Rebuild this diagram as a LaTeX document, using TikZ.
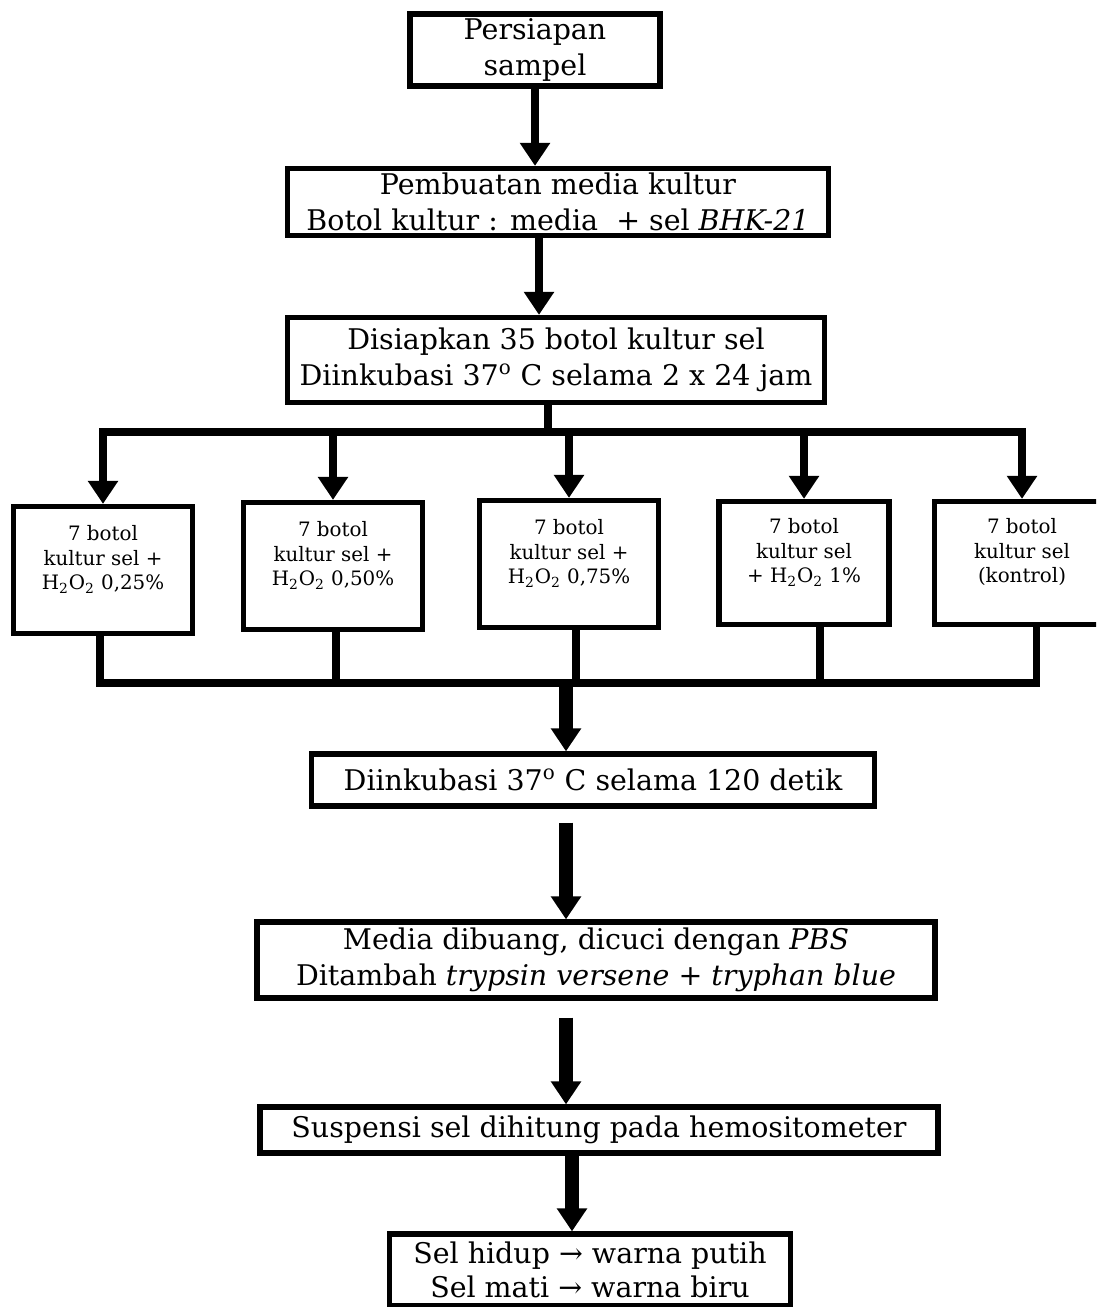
\documentclass[tikz,border=0pt]{standalone}
\usepackage{fontspec}
\setmainfont{DejaVu Serif}
\usetikzlibrary{arrows.meta}

\begin{document}
\begin{tikzpicture}[x=0.02cm,y=-0.02cm,
    box/.style={draw,line width=3pt,align=center,inner sep=0pt,font=\fontsize{16.2}{20.5}\selectfont},
    smallbox/.style={box,minimum width=3.58cm,minimum height=2.54cm,font=\fontsize{11.3}{14}\selectfont},
    arr/.style={line width=5pt,-{Triangle[width=0.58cm,length=0.46cm]}},
    bigarr/.style={arr,line width=7.5pt},
    bus/.style={line width=4pt,line cap=rect}]

    \useasboundingbox (0,0) rectangle (1096,1307);
    \clip (0,0) rectangle (1096,1307);

    % Main steps
    \node[box,minimum width=5cm,minimum height=1.44cm] (prep) at (535,50) {Persiapan\\sampel};
    \node[box,minimum width=10.82cm,minimum height=1.34cm] (media) at (558,202) {Pembuatan media kultur\\Botol kultur : media~ + sel \textit{BHK-21}};
    \node[box,minimum width=10.74cm,minimum height=1.7cm] (siap) at (556,360) {Disiapkan 35 botol kultur sel\\Diinkubasi 37\textsuperscript{o} C selama 2 x 24 jam};

    % Treatment groups
    \node[smallbox] (k1) at (103,570) {7 botol\\kultur sel +\\H\textsubscript{2}O\textsubscript{2} 0,25\%\\\mbox{}};
    \node[smallbox] (k2) at (333,566) {7 botol\\kultur sel +\\H\textsubscript{2}O\textsubscript{2} 0,50\%\\\mbox{}};
    \node[smallbox] (k3) at (569,564) {7 botol\\kultur sel +\\H\textsubscript{2}O\textsubscript{2} 0,75\%\\\mbox{}};
    \node[smallbox,minimum width=3.4cm,minimum height=2.46cm] (k4) at (804,563) {7 botol\\kultur sel\\+ H\textsubscript{2}O\textsubscript{2} 1\%\\\mbox{}};
    \node[smallbox,minimum width=3.5cm,minimum height=2.46cm] (k5) at (1022,563) {7 botol\\kultur sel\\(kontrol)\\\mbox{}};

    \node[box,minimum width=11.26cm,minimum height=1.04cm] (inkub) at (593,780) {Diinkubasi 37\textsuperscript{o} C selama 120 detik};
    \node[box,minimum width=13.56cm,minimum height=1.52cm] (cuci) at (596,960) {Media dibuang, dicuci dengan \textit{PBS}\\Ditambah \textit{trypsin versene} + \textit{tryphan blue}};
    \node[box,minimum width=13.56cm,minimum height=0.92cm] (hitung) at (599,1130) {Suspensi sel dihitung pada hemositometer};
    \node[box,minimum width=8.02cm,minimum height=1.44cm,font=\fontsize{16.2}{19}\selectfont] (hasil) at (590,1270) {Sel hidup → warna putih\\Sel mati → warna biru};

    \coordinate (busT) at (548,432);
    \coordinate (busB) at (566,683);

    \draw[arr] (prep.south) -- (prep.south |- media.north);
    \draw[arr] ([xshift=0.08cm]prep.south |- media.south) -- ([xshift=0.08cm]prep.south |- siap.north);

    % Split to the five groups
    \draw[bus] (busT |- siap.south) -- (busT);
    \draw[bus] (k1.north |- busT) -- (k5.north |- busT);
    \foreach \k in {k1,k2,k3,k4,k5}
        \draw[arr] (\k.north |- busT) -- (\k.north);

    % Join again
    \foreach \k/\dx in {k1/-0.06,k2/0.06,k3/0.14,k4/0.32,k5/0.28}
        \draw[bus] ([xshift=\dx cm]\k.south) -- ([xshift=\dx cm]\k.south |- busB);
    \draw[bus] ([xshift=-0.06cm]k1.south |- busB) -- ([xshift=0.28cm]k5.south |- busB);

    \draw[bigarr] (busB) -- (busB |- inkub.north);
    \draw[bigarr,shorten <=0.28cm] (busB |- inkub.south) -- (busB |- cuci.north);
    \draw[bigarr,shorten <=0.34cm] (busB |- cuci.south) -- (busB |- hitung.north);
    \draw[bigarr] ([xshift=0.12cm]busB |- hitung.south) -- ([xshift=0.12cm]busB |- hasil.north);

\end{tikzpicture}
\end{document}
